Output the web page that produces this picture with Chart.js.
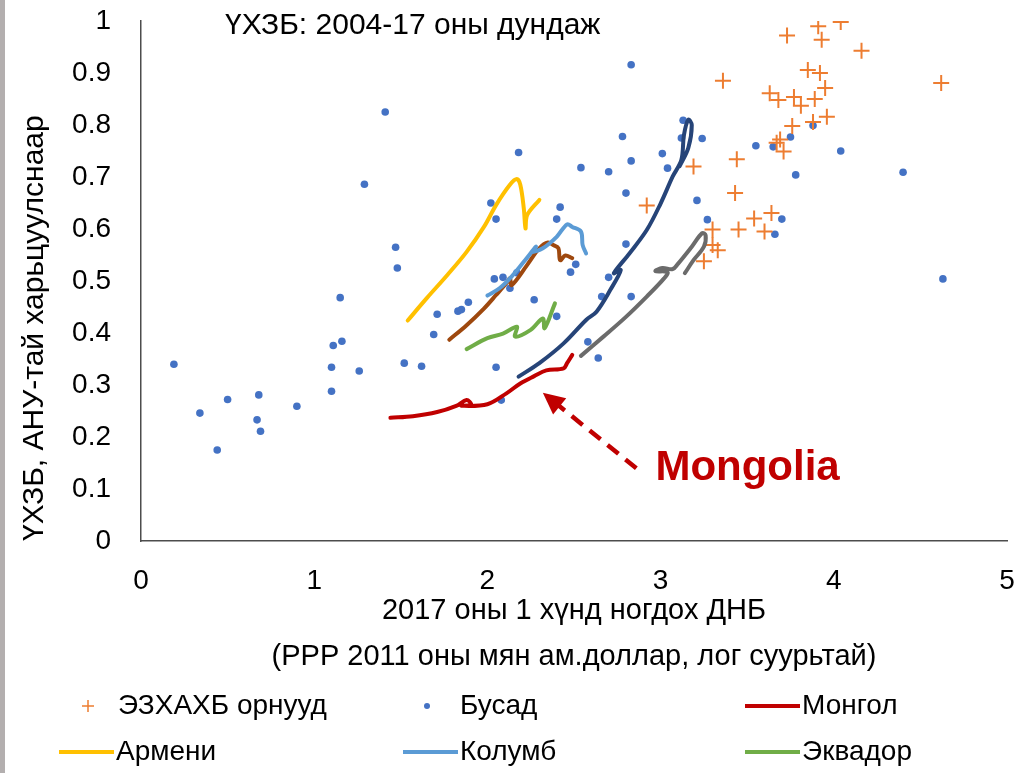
<!DOCTYPE html>
<html>
<head>
<meta charset="utf-8">
<script src="https://cdn.jsdelivr.net/npm/chart.js@4"></script>
<style>
  html, body { margin: 0; padding: 0; background: #fff; }
  #wrap { width: 1018px; height: 773px; }
</style>
</head>
<body>
<div id="wrap"><canvas id="myChart" width="1018" height="773"></canvas></div>
<script>
// ticks
const xTickLabels = ["0", "1", "2", "3", "4", "5"];
const yTickLabels = ["0", "0.1", "0.2", "0.3", "0.4", "0.5", "0.6", "0.7", "0.8", "0.9", "1"];

// ЭЗХАХБ орнууд (crosses)
const oecdX = [4.04, 3.91, 3.93, 3.73, 4.16, 3.36, 4.62, 3.85, 3.92, 3.95, 3.63, 3.68, 3.77, 3.81, 3.89, 3.96, 3.88, 3.76, 3.67, 3.69, 3.71, 3.19, 3.44, 2.92, 3.43, 3.54, 3.64, 3.45, 3.60, 3.30, 3.30, 3.33, 3.25];
const oecdY = [0.998, 0.990, 0.964, 0.972, 0.943, 0.885, 0.881, 0.906, 0.900, 0.871, 0.861, 0.848, 0.854, 0.837, 0.850, 0.816, 0.806, 0.798, 0.766, 0.772, 0.749, 0.720, 0.734, 0.645, 0.669, 0.620, 0.631, 0.599, 0.595, 0.599, 0.569, 0.559, 0.538];

// Бусад (dots)
const otherX = [0.19, 0.34, 0.50, 0.44, 0.68, 0.67, 0.69, 0.90, 1.11, 1.16, 1.10, 1.10, 1.26, 1.15, 1.29, 1.41, 1.47, 1.48, 1.52, 1.62, 1.69, 1.71, 1.83, 1.85, 1.89, 2.02, 2.05, 2.04, 2.09, 2.17, 2.13, 2.05, 2.08, 2.18, 2.27, 2.40, 2.42, 2.40, 2.48, 2.51, 2.54, 2.58, 2.64, 2.66, 2.70, 2.70, 2.78, 2.80, 2.80, 2.83, 2.83, 2.83, 3.01, 3.04, 3.12, 3.13, 3.21, 3.24, 3.27, 3.55, 3.65, 3.75, 3.88, 4.04, 3.78, 3.70, 3.66, 4.40, 4.63];
const otherY = [0.340, 0.246, 0.272, 0.175, 0.281, 0.233, 0.211, 0.259, 0.376, 0.384, 0.334, 0.288, 0.327, 0.468, 0.686, 0.825, 0.565, 0.525, 0.342, 0.336, 0.397, 0.436, 0.442, 0.445, 0.459, 0.650, 0.619, 0.504, 0.507, 0.516, 0.486, 0.334, 0.271, 0.747, 0.464, 0.619, 0.642, 0.432, 0.517, 0.532, 0.718, 0.383, 0.352, 0.470, 0.710, 0.507, 0.778, 0.571, 0.669, 0.916, 0.470, 0.731, 0.745, 0.717, 0.775, 0.809, 0.655, 0.774, 0.618, 0.760, 0.758, 0.777, 0.799, 0.750, 0.704, 0.619, 0.590, 0.709, 0.504];

// Монгол
const mongolX = [1.44, 1.57, 1.71, 1.82, 1.88, 1.905, 1.85, 2.00, 2.11, 2.19, 2.27, 2.34, 2.44, 2.46, 2.49];
const mongolY = [0.237, 0.240, 0.248, 0.260, 0.271, 0.263, 0.260, 0.263, 0.284, 0.303, 0.317, 0.328, 0.332, 0.342, 0.358];

// Армени
const armeniaX = [1.54, 1.65, 1.77, 1.88, 1.98, 2.05, 2.13, 2.17, 2.19, 2.21, 2.22, 2.23, 2.30];
const armeniaY = [0.424, 0.467, 0.512, 0.556, 0.604, 0.646, 0.685, 0.696, 0.685, 0.640, 0.601, 0.627, 0.656];

// Колумб
const colombiaX = [2.00, 2.07, 2.13, 2.21, 2.28, 2.26, 2.32, 2.40, 2.46, 2.49, 2.54, 2.55, 2.57];
const colombiaY = [0.472, 0.486, 0.505, 0.537, 0.566, 0.556, 0.563, 0.585, 0.609, 0.604, 0.595, 0.569, 0.553];

// Эквадор
const ecuadorX = [1.88, 2.00, 2.09, 2.17, 2.16, 2.25, 2.32, 2.33, 2.39];
const ecuadorY = [0.369, 0.390, 0.399, 0.412, 0.393, 0.406, 0.428, 0.409, 0.457];

// unlabeled comparison paths
const brownX = [1.78, 1.88, 1.98, 2.05, 2.11, 2.13, 2.14, 2.23, 2.30, 2.35, 2.38, 2.41, 2.42, 2.45, 2.49];
const brownY = [0.387, 0.415, 0.447, 0.473, 0.496, 0.506, 0.492, 0.531, 0.563, 0.574, 0.569, 0.563, 0.540, 0.549, 0.544];

const navyX = [2.18, 2.30, 2.44, 2.57, 2.63, 2.71, 2.77, 2.73, 2.82, 2.92, 3.00, 3.07, 3.12, 3.135, 3.16, 3.18, 3.16, 3.11];
const navyY = [0.316, 0.342, 0.380, 0.425, 0.441, 0.483, 0.521, 0.515, 0.553, 0.598, 0.649, 0.701, 0.733, 0.781, 0.810, 0.800, 0.756, 0.721];

const grayX = [2.54, 2.67, 2.80, 2.92, 3.02, 3.04, 2.97, 3.01, 3.07, 3.10, 3.18, 3.24, 3.26, 3.25, 3.19, 3.14];
const grayY = [0.356, 0.393, 0.431, 0.470, 0.505, 0.517, 0.519, 0.525, 0.523, 0.533, 0.566, 0.592, 0.588, 0.566, 0.540, 0.515];

const FONT = "'Liberation Sans', Arial, sans-serif";

const pts = (xs, ys) => xs.map((x, i) => ({ x: x, y: ys[i] }));

function pathSet(label, xs, ys, color, order) {
  return {
    label: label,
    data: pts(xs, ys),
    showLine: true,
    borderColor: color,
    backgroundColor: color,
    borderWidth: 4,
    pointRadius: 0,
    tension: 0.35,
    borderCapStyle: "round",
    borderJoinStyle: "round",
    order: order,
  };
}

const data = {
  datasets: [
    pathSet("Монгол", mongolX, mongolY, "#C00000", 1),
    pathSet("Армени", armeniaX, armeniaY, "#FFC000", 2),
    pathSet("Колумб", colombiaX, colombiaY, "#5B9BD5", 3),
    pathSet("Эквадор", ecuadorX, ecuadorY, "#70AD47", 4),
    pathSet("brown", brownX, brownY, "#9E480E", 5),
    pathSet("navy", navyX, navyY, "#264478", 6),
    pathSet("gray", grayX, grayY, "#6B6B6B", 7),
    {
      label: "ЭЗХАХБ орнууд",
      data: pts(oecdX, oecdY),
      pointStyle: "cross",
      pointRadius: 8,
      borderColor: "#ED7D31",
      backgroundColor: "#ED7D31",
      pointBorderWidth: 2,
      order: 8,
    },
    {
      label: "Бусад",
      data: pts(otherX, otherY),
      pointStyle: "circle",
      pointRadius: 3.8,
      borderWidth: 0,
      pointBorderWidth: 0,
      backgroundColor: "#4472C4",
      borderColor: "#4472C4",
      order: 9,
    },
  ],
};

// legend rows, annotation, left strip
const overlay = {
  id: "overlay",
  beforeDraw(chart) {
    const ctx = chart.ctx;
    ctx.save();
    ctx.fillStyle = "#fff";
    ctx.fillRect(0, 0, chart.width, chart.height);
    ctx.fillStyle = "#B3AFAF";
    ctx.fillRect(0, 0, 5, chart.height);
    ctx.restore();
  },
  afterDatasetsDraw(chart) {
    const ctx = chart.ctx;
    const xs = chart.scales.x, ys = chart.scales.y;
    ctx.save();
    ctx.fillStyle = "#000";
    ctx.font = "30px " + FONT;
    ctx.textBaseline = "middle";
    ctx.fillText("ҮХЗБ: 2004-17 оны дундаж", xs.getPixelForValue(0.485), ys.getPixelForValue(0.99));

    // dashed arrow toward the Mongolia path
    const x1 = xs.getPixelForValue(2.86), y1 = ys.getPixelForValue(0.14);
    const x2 = xs.getPixelForValue(2.32), y2 = ys.getPixelForValue(0.285);
    const ang = Math.atan2(y2 - y1, x2 - x1);
    const head = 24;
    ctx.strokeStyle = "#C00000";
    ctx.fillStyle = "#C00000";
    ctx.lineWidth = 4.5;
    ctx.setLineDash([14, 9]);
    ctx.beginPath();
    ctx.moveTo(x1, y1);
    ctx.lineTo(x2 - Math.cos(ang) * head * 0.8, y2 - Math.sin(ang) * head * 0.8);
    ctx.stroke();
    ctx.setLineDash([]);
    ctx.beginPath();
    ctx.moveTo(x2, y2);
    ctx.lineTo(x2 - head * Math.cos(ang - 0.45), y2 - head * Math.sin(ang - 0.45));
    ctx.lineTo(x2 - head * Math.cos(ang + 0.45), y2 - head * Math.sin(ang + 0.45));
    ctx.closePath();
    ctx.fill();

    ctx.font = "bold 42px " + FONT;
    ctx.fillText("Mongolia", xs.getPixelForValue(2.97), ys.getPixelForValue(0.14));
    ctx.restore();
  },
  afterDraw(chart) {
    const ctx = chart.ctx;
    const ds = chart.data.datasets;
    const row1 = 706, row2 = 752;
    ctx.save();
    ctx.font = "28px " + FONT;
    ctx.textBaseline = "middle";
    ctx.fillStyle = "#000";

    // crosses
    ctx.strokeStyle = ds[7].borderColor;
    ctx.lineWidth = 1.5;
    ctx.beginPath();
    ctx.moveTo(82, row1); ctx.lineTo(94, row1);
    ctx.moveTo(88, row1 - 6); ctx.lineTo(88, row1 + 6);
    ctx.stroke();
    ctx.fillText(ds[7].label, 118, row1);

    // dots
    ctx.fillStyle = ds[8].backgroundColor;
    ctx.beginPath();
    ctx.arc(427, row1, 3, 0, Math.PI * 2);
    ctx.fill();
    ctx.fillStyle = "#000";
    ctx.fillText(ds[8].label, 460, row1);

    const lineItem = (d, x0, y) => {
      ctx.strokeStyle = d.borderColor;
      ctx.lineWidth = 4;
      ctx.beginPath();
      ctx.moveTo(x0, y); ctx.lineTo(x0 + 55, y);
      ctx.stroke();
      ctx.fillText(d.label, x0 + 57, y);
    };
    lineItem(ds[0], 745, row1);
    lineItem(ds[1], 59, row2);
    lineItem(ds[2], 403, row2);
    lineItem(ds[3], 745, row2);
    ctx.restore();
  },
};

const config = {
  type: "scatter",
  data,
  options: {
    responsive: false,
    animation: false,
    layout: { autoPadding: false, padding: { left: 5, right: 11, top: 21, bottom: 0 } },
    plugins: {
      legend: { display: false },
      tooltip: { enabled: false },
    },
    scales: {
      x: {
        type: "linear",
        min: 0,
        max: 5,
        grid: { display: false, drawTicks: true, tickLength: 23 },
        border: { display: true, color: "#4D4D4D", width: 1.5 },
        ticks: {
          stepSize: 1,
          padding: 0,
          maxRotation: 0,
          color: "#000",
          font: { family: FONT, size: 28 },
          callback: (v) => xTickLabels[v],
        },
        title: {
          display: true,
          text: ["2017 оны 1 хүнд ногдох ДНБ", "(PPP 2011 оны мян ам.доллар, лог суурьтай)"],
          color: "#000",
          font: { family: FONT, size: 29, lineHeight: 1.59 },
          padding: { top: 0, bottom: 93 },
        },
        afterFit(scale) { scale.height = 232; },
      },
      y: {
        type: "linear",
        min: 0,
        max: 1,
        grid: { display: false, drawTicks: true, tickLength: 30 },
        border: { display: true, color: "#4D4D4D", width: 1.5 },
        ticks: {
          stepSize: 0.1,
          padding: 0,
          color: "#000",
          font: { family: FONT, size: 28 },
          callback: (v) => yTickLabels[Math.round(v * 10)],
        },
        title: {
          display: true,
          align: "start",
          text: "ҮХЗБ, АНУ-тай харьцуулснаар",
          color: "#000",
          font: { family: FONT, size: 30 },
          padding: { top: 12, bottom: 0 },
        },
        afterFit(scale) { scale.width = 136; },
      },
    },
  },
  plugins: [overlay],
};

const myChart = new Chart(document.getElementById("myChart"), config);
</script>
</body>
</html>
